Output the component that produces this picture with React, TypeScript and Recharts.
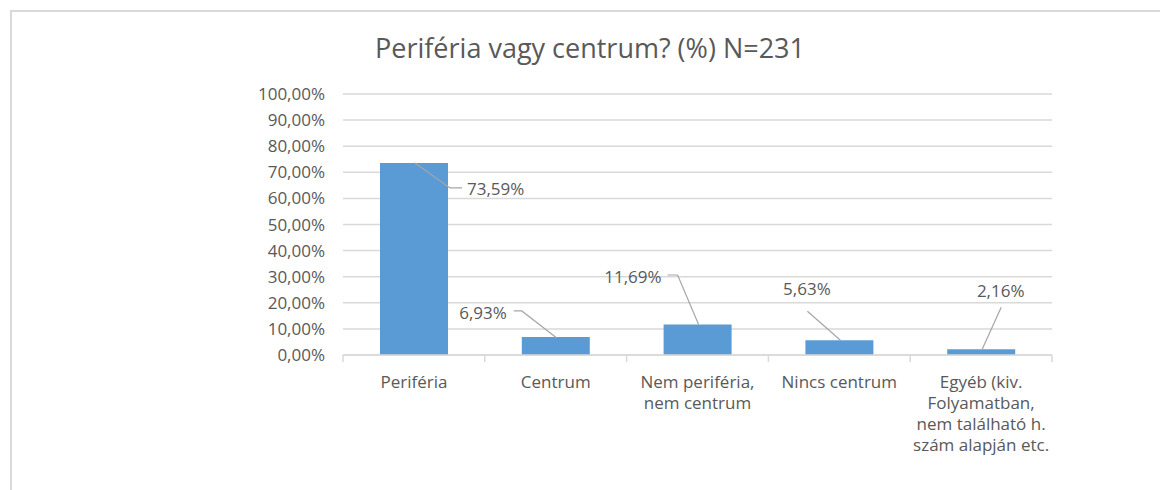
import React from 'react';
import { BarChart, Bar, XAxis, YAxis, CartesianGrid, LabelList } from 'recharts';

const TITLE = 'Periféria vagy centrum? (%) N=231';
const CATEGORIES = ['Periféria', 'Centrum', 'Nem periféria, nem centrum', 'Nincs centrum', 'Egyéb (kiv. Folyamatban, nem található h. szám alapján etc.'];
const CATEGORY_LINES = [
  ['Periféria'],
  ['Centrum'],
  ['Nem periféria,', 'nem centrum'],
  ['Nincs centrum'],
  ['Egyéb (kiv.', 'Folyamatban,', 'nem található h.', 'szám alapján etc.'],
];
const VALUES = [73.59, 6.93, 11.69, 5.63, 2.16];
const Y_TICKS = [0, 10, 20, 30, 40, 50, 60, 70, 80, 90, 100];

const data = CATEGORIES.map((name, i) => ({ name, value: VALUES[i], idx: i }));

const FONT = '"Open Sans", "Noto Sans", sans-serif';
const TEXT = '#595959';
const GRID = '#d9d9d9';
const BAR = '#5b9bd5';
const LEADER = '#a6a6a6';
const FS = 17;

const fmt = (v: number) => v.toFixed(2).replace('.', ',') + '%';

// leader-line layout relative to bar top-centre
const LABEL_LAYOUT = [
  { line: [[1, 0], [36, 25], [48, 25]], tx: 53, ty: 26, anchor: 'start' },
  { line: [[1, 1], [-34, -26], [-42, -26]], tx: -49, ty: -24, anchor: 'end' },
  { line: [[1, 0], [-20, -49.5], [-30, -49.5]], tx: -36, ty: -47.5, anchor: 'end' },
  { line: [[1, 0], [-32, -29]], tx: -32.5, ty: -51, anchor: 'middle' },
  { line: [[1, 0], [20, -42]], tx: 19.5, ty: -58, anchor: 'middle' },
];

const renderLabel = (props: any) => {
  const { x, y, width, index, value } = props;
  const cx = Number(x) + Number(width) / 2;
  const top = Number(y);
  const L = LABEL_LAYOUT[index];
  if (!L) return null;
  const pts = L.line.map(([dx, dy]) => `${cx + dx},${top + dy}`).join(' ');
  return (
    <g>
      <polyline points={pts} fill="none" stroke={LEADER} strokeWidth={1.2} />
      <text x={cx + L.tx} y={top + L.ty} dy="0.35em" textAnchor={L.anchor as any} fill={TEXT} fontSize={FS} fontFamily={FONT}>
        {fmt(Number(value))}
      </text>
    </g>
  );
};

const XTick = (props: any) => {
  const { x, y, payload, index, visibleTicksCount } = props;
  const half = payload && payload.offset ? payload.offset : 70.9;
  const lines = CATEGORY_LINES[index] || [String(payload.value)];
  const last = index === (visibleTicksCount ?? CATEGORIES.length) - 1;
  return (
    <g>
      <line x1={x - half} y1={y} x2={x - half} y2={y + 7} stroke={GRID} strokeWidth={1.5} />
      {last && <line x1={x + half} y1={y} x2={x + half} y2={y + 7} stroke={GRID} strokeWidth={1.5} />}
      <text x={x} y={y + 27} textAnchor="middle" fill={TEXT} fontSize={FS} fontFamily={FONT}>
        {lines.map((l: string, i: number) => (
          <tspan key={i} x={x} dy={i === 0 ? '0.35em' : 21}>{l}</tspan>
        ))}
      </text>
    </g>
  );
};

export default function App() {
  return (
    <div style={{ position: 'absolute', left: 0, top: 0, width: 1160, height: 490, background: '#fff', fontFamily: FONT }}>
      <div style={{ position: 'absolute', left: 10, top: 10, width: 1150, height: 480, borderTop: `2px solid ${GRID}`, borderLeft: `2px solid ${GRID}`, boxSizing: 'border-box' }} />
      <div style={{ position: 'absolute', left: 10, top: 30, width: 1160, textAlign: 'center', fontSize: 27, color: TEXT, lineHeight: '36px' }}>
        {TITLE}
      </div>
      <div style={{ position: 'absolute', left: 0, top: 0 }}>
        <BarChart width={1160} height={490} data={data} margin={{ top: 94, right: 108, bottom: 0, left: 0 }}>
          <CartesianGrid horizontal vertical={false} stroke={GRID} strokeWidth={1.5} />
          <XAxis
            dataKey="name"
            height={135}
            axisLine={{ stroke: GRID, strokeWidth: 1.5 }}
            tickLine={false}
            tickSize={0}
            tickMargin={0}
            interval={0}
            tick={<XTick />}
          />
          <YAxis
            width={343}
            domain={[0, 100]}
            ticks={Y_TICKS}
            tickFormatter={fmt}
            axisLine={false}
            tickLine={false}
            tickSize={0}
            tickMargin={18}
            tick={{ fill: TEXT, fontSize: FS, fontFamily: FONT }}
            interval={0}
          />
          <Bar dataKey="value" fill={BAR} barSize={68} isAnimationActive={false}>
            <LabelList dataKey="value" content={renderLabel} />
          </Bar>
        </BarChart>
      </div>
    </div>
  );
}
